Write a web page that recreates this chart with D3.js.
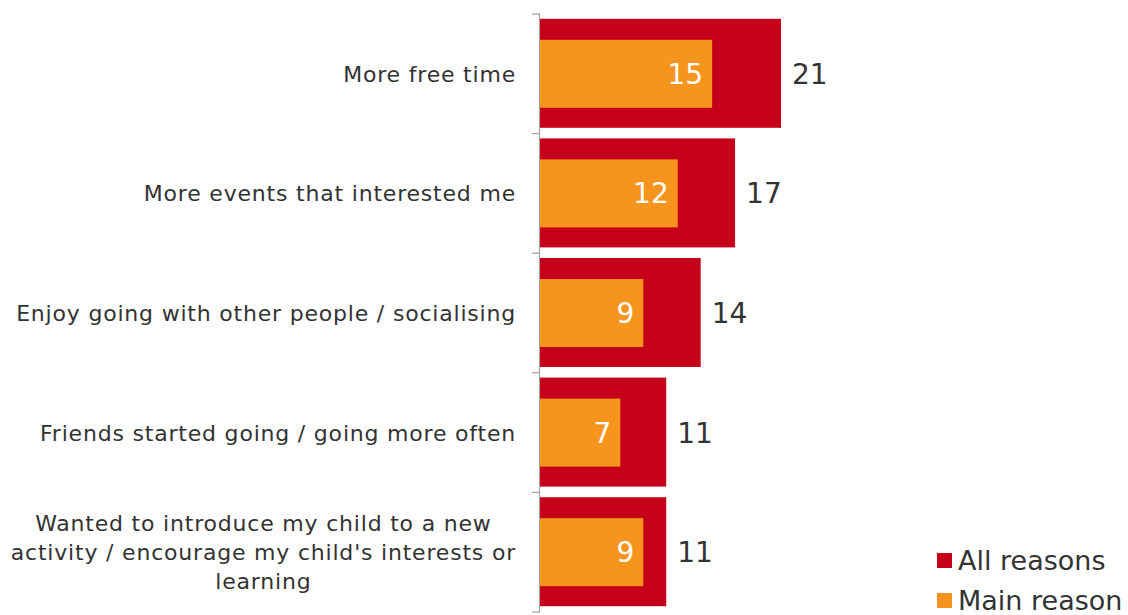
<!DOCTYPE html>
<html>
<head>
<meta charset="utf-8">
<script src="https://cdn.jsdelivr.net/npm/d3@7"></script>
<style>
  body { margin: 0; background: #fff; }
  text { font-family: "DejaVu Sans", Verdana, sans-serif; }
</style>
</head>
<body>
<svg width="1128" height="615"></svg>
<script>
// data
const categories = [
  ["More free time"],
  ["More events that interested me"],
  ["Enjoy going with other people / socialising"],
  ["Friends started going / going more often"],
  ["Wanted to introduce my child to a new", "activity / encourage my child's interests or", "learning"]
];
const allReasons = [21, 17, 14, 11, 11];
const mainReason = [15, 12, 9, 7, 9];
const seriesNames = ["All reasons", "Main reason"];
const colors = ["#c5001a", "#f7941d"];

let svg = d3.select('svg');
let x0 = 540, plotTop = 14, plotBottom = 612;

let x = d3.scaleLinear().domain([0, 21]).range([x0, x0 + 241]);
let y = d3.scaleBand().domain(d3.range(categories.length)).range([plotTop, plotBottom]);

// axis with boundary ticks
let axis = svg.append('g');
axis.append('line')
  .attr('x1', x0 - 0.5).attr('x2', x0 - 0.5)
  .attr('y1', plotTop).attr('y2', plotBottom)
  .attr('stroke', '#a6a6a6').attr('stroke-width', 1.3);
axis.selectAll('.tk')
  .data(d3.range(categories.length + 1))
  .enter().append('line')
    .attr('x1', x0 - 8).attr('x2', x0)
    .attr('y1', d => plotTop + d * y.step())
    .attr('y2', d => plotTop + d * y.step())
    .attr('stroke', '#a6a6a6').attr('stroke-width', 1.3);

// red bars
let bigH = 109, smallH = 68;
svg.append('g').selectAll('rect')
  .data(allReasons).enter().append('rect')
    .attr('x', x0)
    .attr('y', (d, i) => y(i) + y.bandwidth() / 2 - bigH / 2 - 0.5)
    .attr('width', d => x(d) - x0)
    .attr('height', bigH)
    .attr('fill', colors[0]);

svg.append('g').selectAll('rect')
  .data(mainReason).enter().append('rect')
    .attr('x', x0)
    .attr('y', (d, i) => y(i) + y.bandwidth() / 2 - smallH / 2)
    .attr('width', d => x(d) - x0)
    .attr('height', smallH)
    .attr('fill', colors[1]);

// value labels
svg.append('g').selectAll('text')
  .data(allReasons).enter().append('text')
    .attr('x', d => x(d) + 11)
    .attr('y', (d, i) => y(i) + y.bandwidth() / 2)
    .attr('dy', '0.36em')
    .attr('font-size', 28)
    .attr('fill', '#333')
    .text(d => d);

svg.append('g').selectAll('text')
  .data(mainReason).enter().append('text')
    .attr('x', d => x(d) - 9)
    .attr('y', (d, i) => y(i) + y.bandwidth() / 2)
    .attr('dy', '0.36em')
    .attr('text-anchor', 'end')
    .attr('font-size', 28)
    .attr('fill', '#fff')
    .text(d => d);

// category labels
let labelRight = 516, lineH = 29;
categories.forEach((lines, i) => {
  let cy = y(i) + y.bandwidth() / 2;
  let g = svg.append('g');
  let ts = g.selectAll('text').data(lines).enter().append('text')
    .attr('font-size', 22)
    .attr('letter-spacing', 0.8)
    .attr('fill', '#333')
    .attr('y', (d, j) => cy + (j - (lines.length - 1) / 2) * lineH)
    .attr('dy', '0.36em')
    .text(d => d);
  if (lines.length === 1) {
    ts.attr('x', labelRight).attr('text-anchor', 'end');
  } else {
    let w = d3.max(ts.nodes(), n => n.getComputedTextLength());
    ts.attr('x', labelRight - w / 2).attr('text-anchor', 'middle');
  }
});

// legend
let leg = svg.append('g').attr('transform', 'translate(937,560)');
seriesNames.forEach((s, i) => {
  leg.append('rect')
    .attr('x', 0).attr('y', i * 40 - 7)
    .attr('width', 15).attr('height', 15)
    .attr('fill', colors[i]);
  leg.append('text')
    .attr('x', 21).attr('y', i * 40)
    .attr('dy', '0.36em')
    .attr('font-size', 27)
    .attr('fill', '#333')
    .text(s);
});
</script>
</body>
</html>
